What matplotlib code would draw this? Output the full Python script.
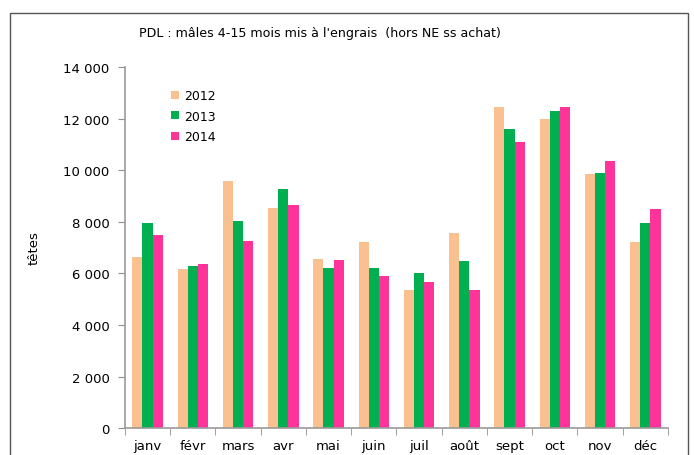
import numpy as np
import matplotlib.pyplot as plt
from matplotlib.patches import Rectangle

months = ['janv', 'févr', 'mars', 'avr', 'mai', 'juin', 'juil', 'août',
          'sept', 'oct', 'nov', 'déc']
y2012 = [6630, 6150, 9580, 8550, 6540, 7200, 5350, 7560, 12460, 12000, 9840, 7200]
y2013 = [7950, 6300, 8030, 9270, 6220, 6220, 6000, 6480, 11580, 12280, 9880, 7940]
y2014 = [7470, 6350, 7240, 8640, 6515, 5910, 5650, 5350, 11090, 12440, 10370, 8500]

colors = ['#FAC090', '#00B050', '#FF3399']

fig = plt.figure(figsize=(6.94, 4.56), dpi=100)
ax = fig.add_axes([0.18, 0.059, 0.7825, 0.792])

x = np.arange(len(months))
w = 0.225
for i, (vals, lab) in enumerate(zip([y2012, y2013, y2014], ['2012', '2013', '2014'])):
    ax.bar(x + (i - 1) * w, vals, w, color=colors[i], label=lab)

ax.set_xlim(-0.5, len(months) - 0.5)
ax.set_ylim(0, 14000)
ax.set_yticks(range(0, 14001, 2000))
ax.set_yticklabels([f"{v:,}".replace(',', ' ') for v in range(0, 14001, 2000)])
ax.set_xticks(x)
ax.set_xticklabels(months)
ax.set_xticks(np.arange(-0.5, len(months), 1), minor=True)
ax.tick_params(axis='x', which='major', length=0, pad=8, labelsize=9.5)
ax.tick_params(axis='x', which='minor', length=5, color='#909090', direction='out')
ax.tick_params(axis='y', length=5, color='#909090', labelsize=9.5, pad=6)

for s in ['top', 'right']:
    ax.spines[s].set_visible(False)
for s in ['left', 'bottom']:
    ax.spines[s].set_color('#999999')
    ax.spines[s].set_linewidth(1.2)

ax.set_ylabel('têtes', fontsize=9.5, labelpad=16)
fig.text(0.2, 0.927, "PDL : mâles 4-15 mois mis à l'engrais  (hors NE ss achat)",
         fontsize=9.1, ha='left', va='center')

ax.legend(loc='upper left', bbox_to_anchor=(0.065, 0.97), frameon=False,
          handlelength=0.6, handleheight=0.6, handletextpad=0.4,
          labelspacing=0.6, fontsize=9)

fig.patches.append(Rectangle((0.0145, -0.1), 0.977, 1.069, transform=fig.transFigure,
                             fill=False, edgecolor='#555555', lw=1))

plt.savefig('out.png', dpi=100)
